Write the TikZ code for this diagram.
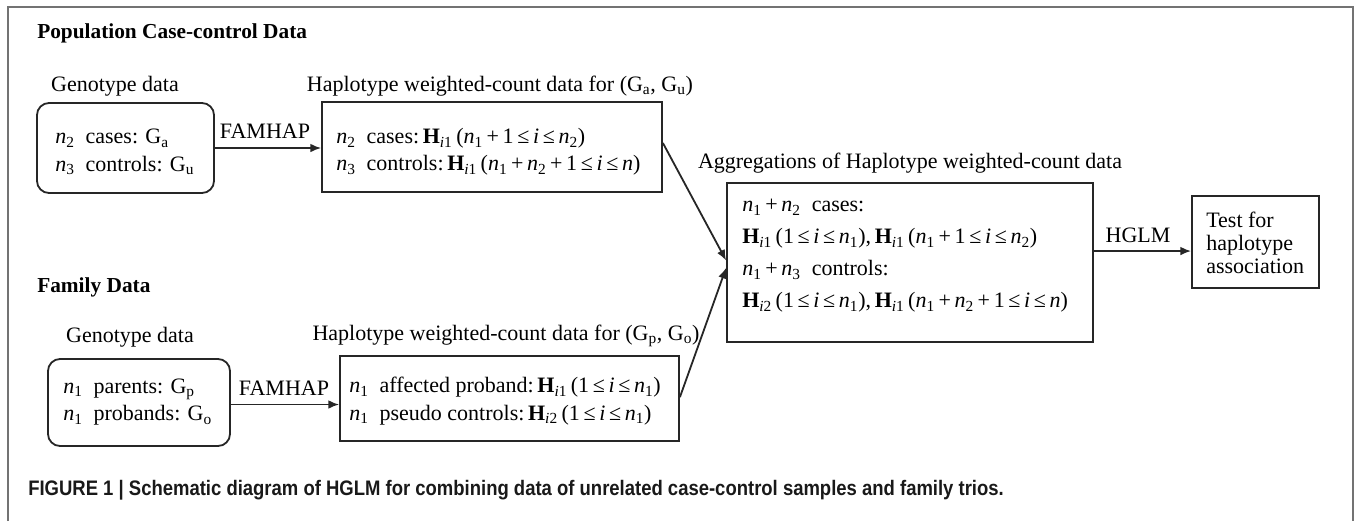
\documentclass[tikz,border=0pt]{standalone}
\usepackage{fontspec}
\setmainfont{Liberation Serif}
\newfontfamily\capfont[FakeStretch=0.88]{Liberation Sans}
\usetikzlibrary{arrows.meta,calc}
\newcommand{\nv}[1]{\textit{n}\textsubscript{#1}}
\newcommand{\Hv}[1]{\textbf{H}\textsubscript{\textit{i}#1}}
\newcommand{\lee}{\,≤\,}
\tikzset{
  boxshape/.style={draw=black!85, line width=1.35pt, inner sep=0pt},
  roundbox/.style={boxshape, rounded corners=9pt},
  boxtext/.style={anchor=west, align=left, inner sep=0pt, font=\fontsize{16.5}{20.5}\selectfont},
  lbl/.style={inner sep=0pt, font=\fontsize{16.5}{20}\selectfont},
  heading/.style={anchor=west, inner sep=0pt, font=\fontsize{16}{19}\selectfont\bfseries},
  arr/.style={line width=1.35pt, draw=black!85, -{Latex[length=8pt,width=6.5pt]}}
}
\begin{document}
\begin{tikzpicture}[x=0.75pt,y=-0.75pt]
\useasboundingbox (0,0) rectangle (1355,521);
% outer frame
\draw[line width=1.5pt, draw=black!55] (8,521) -- (8,7) -- (1353,7) -- (1353,521);

% headings
\node[heading] (hpop) at (37,33) {Population Case-control Data};
\node[heading] (hfam) at (37,287) {Family Data};

% boxes
\node[roundbox, minimum width=132.75pt, minimum height=67.5pt] (box1) at (125.5,148) {};
\node[boxshape, minimum width=255pt, minimum height=67.5pt] (box2) at (492,147) {};
\node[boxshape, minimum width=274.5pt, minimum height=119.25pt] (box3) at (910,262.5) {};
\node[boxshape, minimum width=95.25pt, minimum height=69pt] (box4) at (1255.5,242) {};
\node[roundbox, minimum width=136.5pt, minimum height=65.25pt] (box5) at (139,402.5) {};
\node[boxshape, minimum width=254.25pt, minimum height=63.75pt] (box6) at (509.5,398.5) {};

% box texts
\node[boxtext] (t1) at (55,152) {\nv{2}\enspace cases: G\textsubscript{a}\\\nv{3}\enspace controls: G\textsubscript{u}};
\node[boxtext] (t2) at (336,152) {\nv{2}\enspace cases:\,\Hv{1}\,(\nv{1}\,+\,1\lee\textit{i}\lee\nv{2})\\\nv{3}\enspace controls:\,\Hv{1}\,(\nv{1}\,+\,\nv{2}\,+\,1\lee\textit{i}\lee\textit{n})};
\node[boxtext, font=\fontsize{16.5}{24}\selectfont] (t3) at (742,256) {\nv{1}\,+\,\nv{2}\enspace cases:\\\Hv{1}\,(1\lee\textit{i}\lee\nv{1}),\,\Hv{1}\,(\nv{1}\,+\,1\lee\textit{i}\lee\nv{2})\\\nv{1}\,+\,\nv{3}\enspace controls:\\\Hv{2}\,(1\lee\textit{i}\lee\nv{1}),\,\Hv{1}\,(\nv{1}\,+\,\nv{2}\,+\,1\lee\textit{i}\lee\textit{n})};
\node[boxtext, font=\fontsize{16.5}{17}\selectfont] (t4) at (1206,243) {Test for\\haplotype\\association};
\node[boxtext] (t5) at (63,402) {\nv{1}\enspace parents: G\textsubscript{p}\\\nv{1}\enspace probands: G\textsubscript{o}};
\node[boxtext] (t6) at (349,401) {\nv{1}\enspace affected proband:\,\Hv{1}\,(1\lee\textit{i}\lee\nv{1})\\\nv{1}\enspace pseudo controls:\,\Hv{2}\,(1\lee\textit{i}\lee\nv{1})};

% labels
\node[lbl] (lgen1) at (115,86) {Genotype data};
\node[lbl] (lhap1) at (500,86) {Haplotype weighted-count data for (G\textsubscript{a}, G\textsubscript{u})};
\node[lbl] (lagg) at (910,163) {Aggregations of Haplotype weighted-count data};
\node[lbl] (lgen2) at (130,337) {Genotype data};
\node[lbl] (lhap2) at (506,336) {Haplotype weighted-count data for (G\textsubscript{p}, G\textsubscript{o})};
\node[lbl] (fam1) at (265,131) {FAMHAP};
\node[lbl] (fam2) at (284,388) {FAMHAP};
\node[lbl] (hglm) at (1138,235) {HGLM};

% connectors
\draw[arr] (box1.east) -- (box1.east -| box2.west);
\draw[arr] ([yshift=-1.5pt]box5.east) -- ([yshift=-1.5pt]box5.east -| box6.west);
\draw[arr] ([yshift=3pt]box2.east) -- ([yshift=1.5pt]box3.west);
\draw[arr] ([yshift=1pt]box6.east) -- ([yshift=-4pt]box3.west);
\draw[arr] ([yshift=8.6pt]box3.east) -- ([yshift=8.6pt]box3.east -| box4.west);

% caption
\node[anchor=west, inner sep=0pt, text=black!90, font=\capfont\bfseries\fontsize{15.75}{18}\selectfont] (cap) at (28,490) {FIGURE 1 | Schematic diagram of HGLM for combining data of unrelated case-control samples and family trios.};
\end{tikzpicture}
\end{document}
